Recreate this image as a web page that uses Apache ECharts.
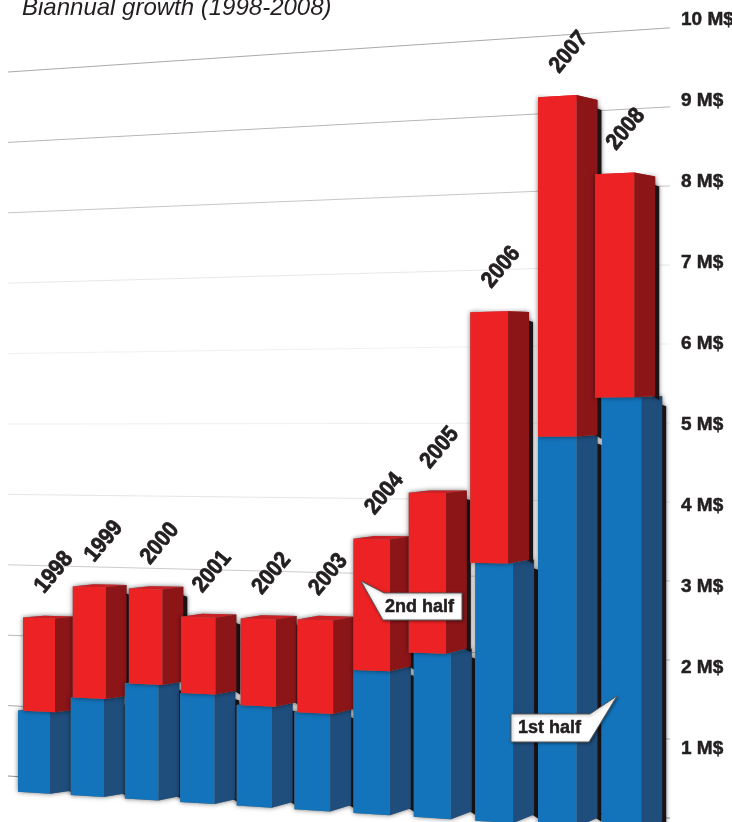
<!DOCTYPE html>
<html><head><meta charset="utf-8">
<style>html,body{margin:0;padding:0;background:#fff;overflow:hidden}#c{width:732px;height:822px}</style>
<script src="https://cdn.jsdelivr.net/npm/echarts@6/dist/echarts.min.js"></script>
</head><body><div id="c"></div>
<script>
const years = [1998,1999,2000,2001,2002,2003,2004,2005,2006,2007,2008];
const firstHalf  = [1.15,1.37,1.60,1.50,1.37,1.31,1.91,2.17,3.37,5.02,5.52];
const secondHalf = [1.32,1.56,1.32,1.05,1.18,1.25,1.75,2.11,3.28,4.39,2.86];
const gridValues = [0,1,2,3,4,5,6,7,8,9,10];
const gridTones  = ['#8f8f8f','#aaaaaa','#bbbbbb','#cccccc','#e6e6e6','#efefef','#f1f1f1','#e8e8e8','#c6c6c6','#b6b6b6','#aaaaaa'];

// perspective of the chart floor
const FONT = '"Liberation Sans", Arial, sans-serif';
const INK = '#231f20';
const colX = i => 10 + 52.2*i + 0.62*i*i;      // column position along the receding x axis
const colW = i => 32 + 0.72*i;
const upperLean = [5,2,4,1,4,3,0,-5,-5,0,-7];   // the upper block leans off the lower one
const DEPTH = 21;

function persp(api, xu, v, drop){
  const c = api.coord([xu, v]);
  const zero = api.coord([xu, 0])[1];
  const t = c[0] - 8;
  const s = (70.4 + 0.01303*t) / 81;
  return [c[0], zero - 54 + 0.0636*t + drop - (zero - c[1])*s];
}
function back(p, baseY){
  const x = p[0];
  const lift = 3 + 0.012*(x - 50);
  const shrink = 0.004 + 0.000027*x;
  return [x + DEPTH, p[1] - lift + shrink*(baseY - p[1])];
}
function block(api, xu, w, v0, v1, front, side, topCol){
  const bl = persp(api, xu, v0, 15), br = persp(api, xu+w, v0, 15);
  const tl = persp(api, xu, v1, 15), tr = persp(api, xu+w, v1, 15);
  const baseL = persp(api, xu, 0, 15)[1], baseR = persp(api, xu+w, 0, 15)[1];
  const bbr = back(br, baseR), btr = back(tr, baseR), btl = back(tl, baseL);
  const poly = (pts, fill, extra) => ({type:'polygon', shape:{points:pts}, style:Object.assign({fill}, extra||{})});
  return [
    poly([tl, btl, btr, bbr, br, bl], '#777', {shadowBlur:5, shadowColor:'rgba(0,0,0,0.55)'}),
    poly([[btr[0]-2, btr[1]+8],[btr[0]+4, btr[1]+10],[bbr[0]+4, bbr[1]+4],[bbr[0]-2, bbr[1]]], '#1a1416', {shadowBlur:4, shadowColor:'rgba(0,0,0,0.5)'}),
    poly([tl, btl, btr, tr], topCol),
    poly([tr, btr, bbr, br], side),
    poly([tl, tr, br, bl], front)
  ];
}

const option = {
  animation:false,
  backgroundColor:'#fff',
  title:{text:'Biannual growth (1998-2008)', left:17, top:-9,
    textStyle:{fontFamily:FONT, fontStyle:'italic', fontWeight:'normal', fontSize:24, color:INK}},
  grid:{left:8, width:660, top:20, height:810, containLabel:false, outerBoundsMode:'none'},
  xAxis:{type:'value', min:0, max:660, show:false},
  yAxis:{type:'value', min:0, max:10, interval:1, position:'right',
    axisLine:{show:false}, axisTick:{show:false}, splitLine:{show:false},
    axisLabel:{show:true, margin:13, align:'left', color:INK, fontFamily:FONT, fontWeight:'bold', fontSize:19,
      textBorderColor:INK, textBorderWidth:0.5,
      formatter:v => v === 0 ? '' : v + ' M$'}},
  series:[
    {type:'custom', silent:true, clip:false, encode:{y:0},
     data:gridValues.map((v,i)=>[v,gridTones[i]]),
     renderItem:(p,api)=>{
       const v = api.value(0);
       const a = persp(api, 0, v, 0), b = persp(api, 662, v, 0);
       return {type:'line', shape:{x1:a[0],y1:a[1],x2:b[0],y2:b[1]},
         style:{stroke:gridTones[p.dataIndex], lineWidth:1}};
     }},
    {type:'custom', silent:true, clip:false, encode:{x:0,y:1},
     data:years.map((y,i)=>[colX(i), firstHalf[i], secondHalf[i], i]),
     renderItem:(p,api)=>{
       const i = api.value(3), x = api.value(0), a = api.value(1), b = api.value(2), w = colW(i);
       return {type:'group', children:[
         ...block(api, x, w, 0, a, '#1474bb', '#1f4e7d', '#1c5c95'),
         ...block(api, x+upperLean[i], w, a, a+b, '#ed2224', '#8c1518', '#c91f25')
       ]};
     }},
    {type:'custom', silent:true, clip:false, encode:{x:0,y:1},
     data:years.map((y,i)=>[colX(i)+upperLean[i], firstHalf[i]+secondHalf[i], y]),
     renderItem:(p,api)=>{
       const t = persp(api, api.value(0), api.value(1), 15);
       return {type:'text', x:t[0]+31, y:t[1]-45, rotation:50*Math.PI/180, scaleX:0.9, scaleY:1,
         style:{text:String(api.value(2)), font:'bold 23px '+FONT, fill:INK, stroke:INK, lineWidth:0.8, textAlign:'center', textVerticalAlign:'middle'}};
     }}
  ],
  graphic:[
    {type:'polygon', z:50, shape:{points:[[384,593],[462,593],[462,620],[383,620],[361,581]]},
     style:{fill:'#fff', stroke:'#58595b', lineWidth:1, shadowBlur:3, shadowColor:'rgba(0,0,0,0.4)', shadowOffsetX:1, shadowOffsetY:1}},
    {type:'text', z:51, x:385, y:607, style:{text:'2nd half', font:'bold 18px '+FONT, fill:INK, stroke:INK, lineWidth:0.5, textVerticalAlign:'middle'}},
    {type:'polygon', z:50, shape:{points:[[511,714],[590,714],[617,696],[589,742],[511,742]]},
     style:{fill:'#fff', stroke:'#58595b', lineWidth:1, shadowBlur:3, shadowColor:'rgba(0,0,0,0.4)', shadowOffsetX:1, shadowOffsetY:1}},
    {type:'text', z:51, x:518, y:728, style:{text:'1st half', font:'bold 18px '+FONT, fill:INK, stroke:INK, lineWidth:0.5, textVerticalAlign:'middle'}}
  ]
};
echarts.init(document.getElementById('c'), null, {renderer:'canvas'}).setOption(option);
</script></body></html>
